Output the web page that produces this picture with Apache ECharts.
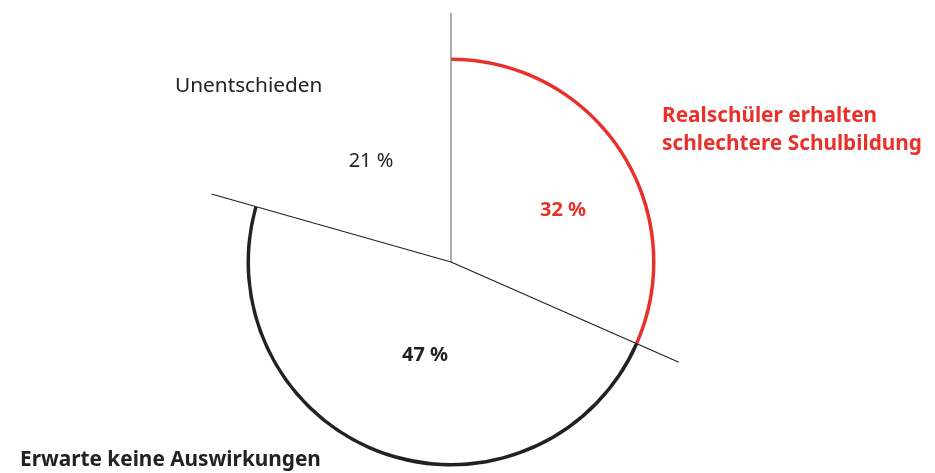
<!DOCTYPE html>
<html>
<head>
<meta charset="utf-8">
<script src="https://cdn.jsdelivr.net/npm/echarts@6/dist/echarts.min.js"></script>
<style>
html,body{margin:0;padding:0;background:#fff;}
#chart{width:935px;height:473px;}
</style>
</head>
<body>
<div id="chart"></div>
<script>
// ---- data ----
var categories = ['Realschüler erhalten\nschlechtere Schulbildung', 'Erwarte keine Auswirkungen', 'Unentschieden'];
// slice shares as drawn in the picture
var values = [31.6, 47.8, 20.6];
// printed percentage labels
var pctLabels = ['32 %', '47 %', '21 %'];

// ---- styles ----
var RED = '#e8312b';
var DARK = '#222222';
var FONT = '"Noto Sans", "Open Sans", sans-serif';
var CX = 451, CY = 262;
var ringColors = [RED, DARK, 'rgba(0,0,0,0)'];
var lineColors = ['#777777', DARK, DARK];

var total = values.reduce(function (a, b) { return a + b; }, 0);
var bounds = [0];
values.forEach(function (v, i) { bounds.push(bounds[i] + v); });

var chart = echarts.init(document.getElementById('chart'), null, {renderer: 'canvas'});

var series = [];
series.push({
  type: 'pie',
  center: [CX, CY],
  radius: [201, 204.5],
  startAngle: 90,
  clockwise: true,
  silent: true,
  label: {show: false},
  labelLine: {show: false},
  emphasis: {disabled: true},
  data: values.map(function (v, i) {
    return {value: v, name: categories[i], itemStyle: {color: ringColors[i]}};
  })
});
// divider lines (one per slice boundary)
[0, 1, 2].forEach(function (k) {
  series.push({
    type: 'line',
    coordinateSystem: 'polar',
    symbol: 'none',
    silent: true,
    lineStyle: {color: lineColors[k], width: 1.2},
    data: [[0, bounds[k]], [249, bounds[k]]]
  });
});

// label layout (positions only)
var pctPos = [[563, 210], [425, 355], [371, 161]];
var pctStyle = [
  {fill: RED, fontWeight: 'bold'},
  {fill: DARK, fontWeight: 'bold'},
  {fill: DARK, fontWeight: 'normal'}
];
var namePos = [[662, 130, 'left'], [20, 460, 'left'], [175, 86, 'left']];
var nameStyle = [
  {fill: RED, fontWeight: 'bold'},
  {fill: DARK, fontWeight: 'bold'},
  {fill: DARK, fontWeight: 'normal'}
];

var graphics = [];
values.forEach(function (v, i) {
  graphics.push({
    type: 'text', x: pctPos[i][0], y: pctPos[i][1], silent: true,
    style: {text: pctLabels[i], fill: pctStyle[i].fill, fontWeight: pctStyle[i].fontWeight,
      fontFamily: FONT, fontSize: 20, align: 'center', verticalAlign: 'middle'}
  });
  graphics.push({
    type: 'text', x: namePos[i][0], y: namePos[i][1], silent: true,
    style: {text: categories[i], fill: nameStyle[i].fill, fontWeight: nameStyle[i].fontWeight,
      fontFamily: FONT, fontSize: 20.8, lineHeight: 28, align: namePos[i][2], verticalAlign: 'middle'}
  });
});

chart.setOption({
  backgroundColor: '#ffffff',
  animation: false,
  polar: {center: [CX, CY], radius: 249},
  angleAxis: {type: 'value', min: 0, max: total, startAngle: 90, clockwise: true, show: false},
  radiusAxis: {type: 'value', min: 0, max: 249, show: false},
  series: series,
  graphic: graphics
});
</script>
</body>
</html>
